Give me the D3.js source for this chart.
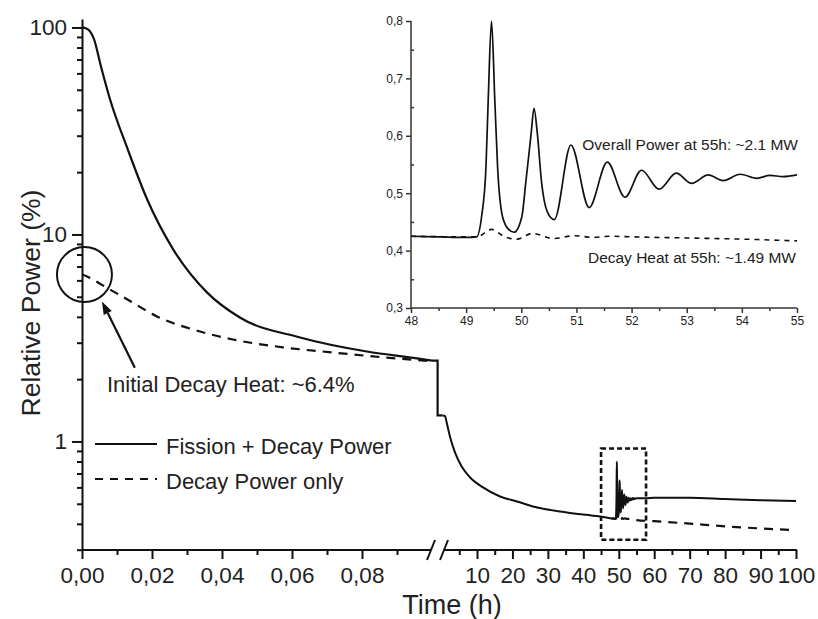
<!DOCTYPE html>
<html>
<head>
<meta charset="utf-8">
<script src="https://cdn.jsdelivr.net/npm/d3@7"></script>
<style>
  body { margin: 0; background: #fff; }
  svg { display: block; }
  text { font-family: "Liberation Sans", Arial, Helvetica, sans-serif; fill: #222; }
</style>
</head>
<body>
<svg id="chart" width="818" height="619"></svg>
<script>
// ---- Early phase after the power step (time in hours, 0 – 0.1 h) ----
const earlyTime  = [0, 0.001, 0.0023, 0.0034, 0.0054, 0.008, 0.0131, 0.0186, 0.026, 0.0357, 0.0451, 0.0623, 0.0814, 0.0957, 0.1];
const earlyTotal = [100, 99.2, 95.7, 88, 65, 45, 25.7, 14.8, 8.5, 5.25, 3.97, 3.18, 2.72, 2.52, 2.46];
const earlyDecayTime = [0, 0.002, 0.005, 0.008, 0.013, 0.0214, 0.0337, 0.0431, 0.0574, 0.0717, 0.086, 0.1];
const earlyDecay     = [6.4, 6.2, 5.8, 5.42, 4.85, 4.02, 3.4, 3.11, 2.85, 2.69, 2.55, 2.44];

// Step down at the end of the first period
const stepTime  = 0.1016;
const stepLevel = [2.46, 1.336];

// ---- Long-term phase (hours) ----
const lateTime  = [0.3, 0.96, 1.44, 2.37, 3.78, 5.67, 8.06, 11.7, 16.5, 21.3, 25.8, 35.4, 44.7];
const lateTotal = [1.336, 1.33, 1.236, 1.057, 0.885, 0.757, 0.67, 0.6, 0.542, 0.513, 0.485, 0.454, 0.434];

// Recriticality window, 48 – 55 h
const zoomTime  = [48, 48.5, 49.0, 49.19, 49.28, 49.36, 49.40, 49.46, 49.52, 49.57, 49.66, 49.77, 49.87,
                   50.01, 50.08, 50.18, 50.23, 50.29, 50.37, 50.47, 50.60, 50.90, 51.23, 51.56, 51.88,
                   52.18, 52.50, 52.81, 53.09, 53.39, 53.66, 53.97, 54.27, 54.51, 54.75, 55.0];
const zoomTotal = [0.425, 0.424, 0.423, 0.424, 0.459, 0.546, 0.662, 0.800, 0.662, 0.546, 0.459, 0.437, 0.432,
                   0.459, 0.517, 0.605, 0.648, 0.605, 0.517, 0.468, 0.454, 0.584, 0.475, 0.554, 0.493,
                   0.540, 0.507, 0.535, 0.517, 0.532, 0.522, 0.533, 0.526, 0.531, 0.529, 0.532];
const zoomDecayTime = [48, 49.0, 49.2, 49.46, 49.7, 49.92, 50.2, 50.58, 50.98, 51.3, 51.6, 52.0, 53.0, 54.0, 55.0];
const zoomDecay     = [0.425, 0.424, 0.424, 0.437, 0.424, 0.420, 0.430, 0.421, 0.426, 0.423, 0.425, 0.424, 0.422, 0.420, 0.417];

// Tail, 55 – 100 h
const tailTime  = [57.7, 60, 70, 80, 90, 100];
const tailTotal = [0.531, 0.535, 0.534, 0.527, 0.52, 0.515];
const tailDecayTime = [60, 70, 80, 90, 100];
const tailDecay     = [0.412, 0.401, 0.389, 0.38, 0.373];

// Axis ticks
const earlyTicks      = [0, 0.02, 0.04, 0.06, 0.08];
const earlyMinorTicks = [0.01, 0.03, 0.05, 0.07, 0.09];
const lateTicks       = [10, 20, 30, 40, 50, 60, 70, 80, 90, 100];
const lateMinorTicks  = [5, 15, 25, 35, 45, 55, 65, 75, 85, 95];
const powerTicks      = [1, 10, 100];
const powerMinorTicks = [0.3, 0.4, 0.5, 0.6, 0.7, 0.8, 0.9, 2, 3, 4, 5, 6, 7, 8, 9, 20, 30, 40, 50, 60, 70, 80, 90];
const insetTimeTicks  = [48, 49, 50, 51, 52, 53, 54, 55];
const insetTimeMinor  = [48.5, 49.5, 50.5, 51.5, 52.5, 53.5, 54.5];
const insetPowerTicks = [0.3, 0.4, 0.5, 0.6, 0.7, 0.8];
const insetPowerMinor = [0.35, 0.45, 0.55, 0.65, 0.75];

// Annotations (in data coordinates)
const highlightBoxTime  = [45, 57.7];
const highlightBoxPower = [0.335, 0.925];
const initialMarker = [0.0007, 6.4];
const arrowFrom = [0.0151, 2.27];
const arrowTo   = [0.0057, 4.75];

const legendLabels = ["Fission + Decay Power", "Decay Power only"];

const zip = (xs, ys) => xs.map((x, i) => [x, ys[i]]);
const comma = d3.formatLocale({decimal: ",", thousands: ".", grouping: [3], currency: ["", ""]});

const svg = d3.select("#chart");
const ink = "#111";

// ---- Scales ----
const xEarly = d3.scaleLinear().domain([0, 0.1]).range([82, 432]);
const xLate  = d3.scaleLinear().domain([10, 100]).range([477, 796]);
const y = d3.scaleLog().domain([0.3, 110]).range([549.7, 18.9]);

const xin = d3.scaleLinear().domain([48, 55]).range([411, 797]);
const yin = d3.scaleLinear().domain([0.3, 0.8]).range([308, 21]);

// ---- Main axes ----
const axisY = 550;
function styleAxis(g, size) {
  g.selectAll(".tick line").attr("stroke", ink).attr("stroke-width", 2);
  g.selectAll(".tick text").attr("font-size", size).attr("fill", "#222");
  g.select(".domain").remove();
}
// axis lines with the break
svg.append("line").attr("x1", xEarly(0)).attr("x2", xEarly(0.1) - 1)
  .attr("y1", axisY).attr("y2", axisY).attr("stroke", ink).attr("stroke-width", 2);
svg.append("line").attr("x1", xLate(0.7)).attr("x2", xLate(100) + 1)
  .attr("y1", axisY).attr("y2", axisY).attr("stroke", ink).attr("stroke-width", 2);
[xEarly(0.1) - 1, xLate(0.7)].forEach(cx => {
  svg.append("line").attr("x1", cx - 4).attr("y1", axisY + 10).attr("x2", cx + 4).attr("y2", axisY - 10)
    .attr("stroke", ink).attr("stroke-width", 2);
});

svg.append("g").attr("transform", `translate(0,${axisY})`)
  .call(d3.axisBottom(xEarly).tickValues(earlyTicks).tickSize(9).tickPadding(8)
    .tickFormat(comma.format(".2f")))
  .call(g => styleAxis(g, 22.5));
svg.append("g").attr("transform", `translate(0,${axisY})`)
  .call(d3.axisBottom(xEarly).tickValues(earlyMinorTicks).tickSize(5).tickFormat(""))
  .call(g => styleAxis(g, 22.5));
svg.append("g").attr("transform", `translate(0,${axisY})`)
  .call(d3.axisBottom(xLate).tickValues(lateTicks).tickSize(9).tickPadding(8).tickFormat(d3.format("d")))
  .call(g => styleAxis(g, 22.5));
svg.append("g").attr("transform", `translate(0,${axisY})`)
  .call(d3.axisBottom(xLate).tickValues(lateMinorTicks).tickSize(5).tickFormat(""))
  .call(g => styleAxis(g, 22.5));

const yAxisG = svg.append("g").attr("transform", "translate(82,0)")
  .call(d3.axisLeft(y).tickValues(powerTicks).tickSize(10).tickSizeOuter(0).tickPadding(5)
    .tickFormat(d3.format("d")));
yAxisG.select(".domain").attr("stroke", ink).attr("stroke-width", 2);
yAxisG.selectAll(".tick line").attr("stroke", ink).attr("stroke-width", 2);
yAxisG.selectAll(".tick text").attr("font-size", 22.5).attr("fill", "#222");
svg.append("g").attr("transform", "translate(82,0)")
  .call(d3.axisLeft(y).tickValues(powerMinorTicks).tickSize(5).tickFormat(""))
  .call(g => { g.select(".domain").remove(); g.selectAll(".tick line").attr("stroke", ink).attr("stroke-width", 2); });

// axis titles
svg.append("text").attr("x", 452).attr("y", 613.5).attr("text-anchor", "middle")
  .attr("font-size", 27).text("Time (h)");
svg.append("text").attr("transform", "translate(40,303) rotate(-90)").attr("text-anchor", "middle")
  .attr("font-size", 26.5).text("Relative Power (%)");

// ---- Main curves ----
const lineEarly = d3.line().x(d => xEarly(d[0])).y(d => y(d[1])).curve(d3.curveMonotoneX);
const lineLate  = d3.line().x(d => xLate(d[0])).y(d => y(d[1])).curve(d3.curveMonotoneX);

const lateTotalPts = zip(lateTime, lateTotal).concat(zip(zoomTime, zoomTotal), zip(tailTime, tailTotal));
const lateDecayPts = zip(zoomDecayTime, zoomDecay).concat(zip(tailDecayTime, tailDecay));

svg.append("path").attr("d", lineEarly(zip(earlyDecayTime, earlyDecay)))
  .attr("fill", "none").attr("stroke", ink).attr("stroke-width", 2.2).attr("stroke-dasharray", "9,7");
svg.append("path").attr("d", lineLate(lateDecayPts))
  .attr("fill", "none").attr("stroke", ink).attr("stroke-width", 2.2).attr("stroke-dasharray", "9,7");

svg.append("path").attr("d", lineEarly(zip(earlyTime, earlyTotal)))
  .attr("fill", "none").attr("stroke", ink).attr("stroke-width", 2.2).attr("stroke-linejoin", "round");
// step between the two periods
const stepPts = [
  [xEarly(earlyTime[earlyTime.length - 1]), y(stepLevel[0])],
  [xEarly(stepTime), y(stepLevel[0])],
  [xEarly(stepTime), y(stepLevel[1])],
  [xLate(lateTime[0]), y(lateTotal[0])]
];
svg.append("path").attr("d", d3.line()(stepPts))
  .attr("fill", "none").attr("stroke", ink).attr("stroke-width", 2.2).attr("stroke-linejoin", "miter");
svg.append("path").attr("d", lineLate(lateTotalPts))
  .attr("fill", "none").attr("stroke", ink).attr("stroke-width", 2).attr("stroke-linejoin", "round");

// highlighted recriticality window
svg.append("rect")
  .attr("x", xLate(highlightBoxTime[0])).attr("y", y(highlightBoxPower[1]))
  .attr("width", xLate(highlightBoxTime[1]) - xLate(highlightBoxTime[0]))
  .attr("height", y(highlightBoxPower[0]) - y(highlightBoxPower[1]))
  .attr("fill", "none").attr("stroke", ink).attr("stroke-width", 2.6).attr("stroke-dasharray", "5,3");

// initial decay heat marker
svg.append("circle").attr("cx", xEarly(initialMarker[0])).attr("cy", y(initialMarker[1])).attr("r", 27.5)
  .attr("fill", "none").attr("stroke", ink).attr("stroke-width", 2);
{
  const x0 = xEarly(arrowFrom[0]), y0 = y(arrowFrom[1]);
  const x1 = xEarly(arrowTo[0]), y1 = y(arrowTo[1]);
  const ang = Math.atan2(y1 - y0, x1 - x0);
  const hl = 13, hw = 4.5;
  const bx = x1 - hl * Math.cos(ang), by = y1 - hl * Math.sin(ang);
  svg.append("line").attr("x1", x0).attr("y1", y0).attr("x2", bx).attr("y2", by)
    .attr("stroke", ink).attr("stroke-width", 2.2);
  svg.append("path").attr("d", d3.line()([
    [x1, y1],
    [bx + hw * Math.sin(ang), by - hw * Math.cos(ang)],
    [bx - hw * Math.sin(ang), by + hw * Math.cos(ang)]
  ]) + "Z").attr("fill", ink);
}
svg.append("text").attr("x", 107).attr("y", 392).attr("font-size", 22)
  .text("Initial Decay Heat: ~6.4%");

// legend
const legend = svg.append("g");
legendLabels.forEach((lab, i) => {
  const ly = 444 + i * 35;
  legend.append("line").attr("x1", 95).attr("x2", 157).attr("y1", ly).attr("y2", ly)
    .attr("stroke", ink).attr("stroke-width", 2.2).attr("stroke-dasharray", i ? "8,7" : null);
  legend.append("text").attr("x", 166).attr("y", ly + 10).attr("font-size", 22).text(lab);
});

// ---- Inset: 48 – 55 h ----
const inset = svg.append("g");
const insetInk = "#333";
inset.append("line").attr("x1", xin(48)).attr("x2", xin(55)).attr("y1", yin(0.3)).attr("y2", yin(0.3))
  .attr("stroke", insetInk).attr("stroke-width", 1.5);
inset.append("line").attr("x1", xin(48)).attr("x2", xin(48)).attr("y1", yin(0.3)).attr("y2", yin(0.8))
  .attr("stroke", insetInk).attr("stroke-width", 1.5);

const fmt1 = comma.format(".1f");
inset.append("g").attr("transform", `translate(0,${yin(0.3)})`)
  .call(d3.axisBottom(xin).tickValues(insetTimeTicks).tickSize(5).tickPadding(3).tickFormat(d3.format("d")))
  .call(g => { g.select(".domain").remove();
    g.selectAll(".tick line").attr("stroke", insetInk).attr("stroke-width", 1.5);
    g.selectAll(".tick text").attr("font-size", 12).attr("fill", "#444"); });
inset.append("g").attr("transform", `translate(0,${yin(0.3)})`)
  .call(d3.axisBottom(xin).tickValues(insetTimeMinor).tickSize(3).tickFormat(""))
  .call(g => { g.select(".domain").remove();
    g.selectAll(".tick line").attr("stroke", insetInk).attr("stroke-width", 1.5); });
inset.append("g").attr("transform", `translate(${xin(48)},0)`)
  .call(d3.axisLeft(yin).tickValues(insetPowerTicks).tickSize(5).tickPadding(3).tickFormat(fmt1))
  .call(g => { g.select(".domain").remove();
    g.selectAll(".tick line").attr("stroke", insetInk).attr("stroke-width", 1.5);
    g.selectAll(".tick text").attr("font-size", 12).attr("fill", "#444"); });
inset.append("g").attr("transform", `translate(${xin(48)},0)`)
  .call(d3.axisRight(yin).tickValues(insetPowerMinor).tickSize(3).tickFormat(""))
  .call(g => { g.select(".domain").remove();
    g.selectAll(".tick line").attr("stroke", insetInk).attr("stroke-width", 1.5); });

const lineInset = d3.line().x(d => xin(d[0])).y(d => yin(d[1])).curve(d3.curveMonotoneX);
inset.append("path").attr("d", lineInset(zip(zoomDecayTime, zoomDecay)))
  .attr("fill", "none").attr("stroke", ink).attr("stroke-width", 1.6).attr("stroke-dasharray", "5,5");
inset.append("path").attr("d", lineInset(zip(zoomTime, zoomTotal)))
  .attr("fill", "none").attr("stroke", ink).attr("stroke-width", 1.7);

inset.append("text").attr("x", 798).attr("y", 150).attr("text-anchor", "end").attr("font-size", 15.5)
  .attr("fill", "#333").text("Overall Power at 55h: ~2.1 MW");
inset.append("text").attr("x", 796).attr("y", 263).attr("text-anchor", "end").attr("font-size", 15.5)
  .attr("fill", "#333").text("Decay Heat at 55h: ~1.49 MW");
</script>
</body>
</html>
